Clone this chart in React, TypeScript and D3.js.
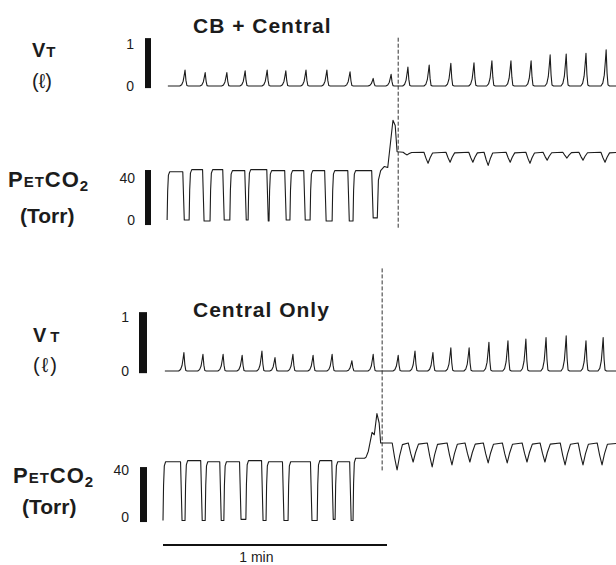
import { useEffect, useRef } from 'react'
import * as d3 from 'd3'

// time in seconds; the "1 min" bar spans 0..60
const minuteBar = [0, 60]
const markerTimes = [63.0, 58.7] // dashed lines: CB + Central, Central Only

// tidal volume breaths (peak time s, peak volume l)
const topVtTimes = [5.9, 11.3, 17.1, 22.0, 27.9, 32.9, 38.3, 43.9, 50.1, 56.3, 61.1, 65.6, 71.3, 77.1, 83.3, 88.1, 93.2, 98.6, 103.7, 108.0, 113.3, 118.7]
const topVtAmps = [0.38, 0.32, 0.32, 0.36, 0.38, 0.36, 0.38, 0.38, 0.34, 0.18, 0.28, 0.45, 0.5, 0.54, 0.55, 0.6, 0.6, 0.6, 0.74, 0.76, 0.78, 0.86]
const botVtTimes = [5.6, 10.7, 16.1, 21.2, 26.5, 30.0, 34.8, 40.2, 45.3, 50.6, 56.3, 63.0, 67.5, 72.3, 77.1, 82.0, 87.3, 92.4, 97.2, 102.6, 108.0, 113.3, 117.9]
const botVtAmps = [0.34, 0.31, 0.31, 0.29, 0.37, 0.25, 0.31, 0.29, 0.31, 0.19, 0.31, 0.29, 0.37, 0.34, 0.43, 0.43, 0.53, 0.56, 0.59, 0.62, 0.65, 0.56, 0.62]

// PETCO2 before the switch: square waves (rise s, fall s, plateau Torr, trough Torr)
const topPetRise = [1.1, 7.0, 12.6, 17.9, 22.8, 28.4, 34.0, 39.4, 45.3, 50.9]
const topPetFall = [5.4, 10.7, 16.1, 22.0, 27.9, 32.7, 37.8, 43.4, 49.6, 56.0]
const topPetPlateau = [46, 48, 48, 47, 48, 47, 47, 47, 47, 47]
const topPetTrough = [0, -1, 0, 0, -1, 0, 0, -1, -1, 2]
const topPetSwitch = [[57.4, 2], [57.7, 38], [58.3, 47], [59.3, 51], [60.2, 50], [61.6, 95], [62.2, 90], [62.7, 65]]
const topPetDipTimes = [65.4, 71.0, 76.9, 83.0, 87.1, 93.0, 98.3, 102.9, 108.2, 112.5, 118.4]
const topPetDipVals = [62, 54, 55, 55, 52, 55, 54, 57, 59, 57, 55]
const topPetLevel = 64.5

const botPetRise = [0.0, 5.9, 11.3, 16.3, 22.2, 27.6, 33.5, 41.3, 46.1, 50.9]
const botPetFall = [4.8, 10.2, 15.3, 20.6, 26.5, 32.1, 39.6, 45.3, 50.1, 54.1]
const botPetPlateau = [47, 48, 47, 47, 48, 47, 47, 48, 47, 50]
const botPetTrough = [-3, -3, -3, -2, -3, -3, -3, -2, -3, 51]
const botPetSwitch = [[55.0, 56], [56.0, 72], [56.6, 70], [57.3, 88], [57.9, 80], [58.3, 63]]
const botPetDipTimes = [62.7, 67.0, 72.1, 77.4, 82.2, 87.1, 92.2, 97.5, 102.3, 107.7, 112.5, 117.6]
const botPetDipVals = [40, 46.8, 42.6, 44.3, 46.8, 46, 46, 46.8, 46.8, 44.3, 44.3, 44.3]
const botPetLevel = 63

const vtTicks = [0, 1]
const petTicks = [0, 40]

type Pt = [number, number]

function vtPoints(times: number[], amps: number[], t0: number, t1: number): Pt[] {
  const pts: Pt[] = [[t0, 0]]
  times.forEach((tp, i) => {
    const a = amps[i]
    pts.push([tp - 1.4, 0], [tp - 0.9, 0.08 * a], [tp - 0.5, 0.3 * a], [tp - 0.2, 0.7 * a], [tp, a],
      [tp + 0.25, 0.35 * a], [tp + 0.5, 0.03 * a], [tp + 0.9, 0])
  })
  pts.push([t1, 0])
  return pts
}

function squarePoints(rise: number[], fall: number[], plat: number[], trough: number[]): Pt[] {
  const pts: Pt[] = []
  rise.forEach((r, i) => {
    const lo = i === 0 ? trough[0] : trough[i - 1]
    const p = plat[i]
    pts.push([r, lo], [r + 0.15, lo + 0.6 * (p - lo)], [r + 0.35, lo + 0.93 * (p - lo)], [r + 0.7, p])
    pts.push([fall[i] - 0.1, p], [fall[i] + 0.3, trough[i]])
  })
  return pts
}

function dipPoints(times: number[], vals: number[], level: number, t1: number, wide: number): Pt[] {
  const pts: Pt[] = []
  times.forEach((td, i) => {
    const d = level - vals[i]
    pts.push([td - 1.0 * wide, level], [td - 0.5 * wide, level - 0.55 * d], [td, level - d],
      [td + 0.5 * wide, level - 0.5 * d], [td + 1.1 * wide, level - 0.06 * d])
  })
  pts.push([t1, level])
  return pts
}

export default function App() {
  const svgRef = useRef<SVGSVGElement>(null)

  useEffect(() => {
    document.body.style.margin = '0'
    if (!svgRef.current) return
    const svg = d3.select(svgRef.current)
    svg.selectAll('*').remove()

    const W = 616
    const H = 565
    svg.attr('width', W).attr('height', H)

    const font = 'Liberation Sans, Arial, Helvetica, sans-serif'
    const ink = '#1c1c1c'
    const x = d3.scaleLinear().domain([0, 60]).range([163, 387])
    const tEnd = 123

    const yTopVt = d3.scaleLinear().domain([0, 1]).range([86, 44])
    const yTopPet = d3.scaleLinear().domain([0, 40]).range([220, 178])
    const yBotVt = d3.scaleLinear().domain([0, 1]).range([371, 317])
    const yBotPet = d3.scaleLinear().domain([0, 40]).range([517, 470])

    const trace = (pts: Pt[], y: d3.ScaleLinear<number, number>) => {
      svg.append('path')
        .datum(pts)
        .attr('fill', 'none')
        .attr('stroke', ink)
        .attr('stroke-width', 1.1)
        .attr('stroke-linejoin', 'round')
        .attr('d', d3.line<Pt>().x(d => x(d[0])).y(d => y(d[1])))
    }

    // traces
    trace(vtPoints(topVtTimes, topVtAmps, 1.3, tEnd), yTopVt)
    trace(vtPoints(botVtTimes, botVtAmps, 0.5, tEnd), yBotVt)
    trace([
      ...squarePoints(topPetRise, topPetFall, topPetPlateau, topPetTrough),
      ...(topPetSwitch as Pt[]),
      ...dipPoints(topPetDipTimes, topPetDipVals, topPetLevel, tEnd, 1.1),
    ], yTopPet)
    trace([
      ...squarePoints(botPetRise, botPetFall, botPetPlateau, botPetTrough),
      ...(botPetSwitch as Pt[]),
      ...dipPoints(botPetDipTimes, botPetDipVals, botPetLevel, tEnd, 1.3),
    ], yBotPet)

    // dashed markers
    const markers = [
      { t: markerTimes[0], y1: yTopVt(1.15), y2: yTopPet(-8) },
      { t: markerTimes[1], y1: yBotVt(1.9), y2: yBotPet(38) },
    ]
    markers.forEach(m => {
      svg.append('line')
        .attr('x1', x(m.t)).attr('x2', x(m.t))
        .attr('y1', m.y1).attr('y2', m.y2)
        .attr('stroke', '#333').attr('stroke-width', 1)
        .attr('stroke-dasharray', '4,2')
    })

    // scale bars + tick labels
    const bars = [
      { y: yTopVt, lo: -0.05, hi: 1.14, x0: 145, w: 6, ticks: vtTicks, lx: 134 },
      { y: yTopPet, lo: -4.8, hi: 47.6, x0: 145, w: 6, ticks: petTicks, lx: 135 },
      { y: yBotVt, lo: -0.04, hi: 1.09, x0: 139, w: 8, ticks: vtTicks, lx: 129 },
      { y: yBotPet, lo: -4.3, hi: 42.5, x0: 140, w: 7, ticks: petTicks, lx: 129 },
    ]
    bars.forEach(b => {
      svg.append('rect')
        .attr('x', b.x0).attr('width', b.w)
        .attr('y', b.y(b.hi)).attr('height', b.y(b.lo) - b.y(b.hi))
        .attr('fill', '#111')
      b.ticks.forEach(t => {
        svg.append('text')
          .attr('x', b.lx).attr('y', b.y(t))
          .attr('dy', '0.35em')
          .attr('text-anchor', 'end')
          .attr('font-family', font).attr('font-size', 14)
          .attr('fill', ink)
          .text(String(t))
      })
    })

    // titles
    const titles = [
      { text: 'CB + Central', y: 33 },
      { text: 'Central Only', y: 317 },
    ]
    titles.forEach(t => {
      svg.append('text')
        .attr('x', 193).attr('y', t.y)
        .attr('font-family', font).attr('font-size', 21).attr('font-weight', 'bold')
        .attr('letter-spacing', 1)
        .attr('fill', ink)
        .text(t.text)
    })

    // row labels
    const vtLabel = (x0: number, yV: number, yL: number, gap: number) => {
      const v = svg.append('text').attr('x', x0).attr('y', yV)
        .attr('font-family', font).attr('font-weight', 'bold').attr('fill', ink)
      v.append('tspan').attr('font-size', 20).text('V')
      v.append('tspan').attr('font-size', 15).attr('dx', gap).text('T')
      svg.append('text').attr('x', x0).attr('y', yL)
        .attr('font-family', font).attr('font-size', 20).attr('fill', ink)
        .attr('letter-spacing', gap > 2 ? 2 : 0)
        .text('(ℓ)')
    }
    vtLabel(32, 57, 88, 1)
    vtLabel(33, 342, 372, 4)

    const petLabel = (x0: number, yP: number, xT: number, yT: number) => {
      const p = svg.append('text').attr('x', x0).attr('y', yP)
        .attr('font-family', font).attr('font-weight', 'bold').attr('fill', ink)
        .attr('letter-spacing', 1)
      p.append('tspan').attr('font-size', 22).text('P')
      p.append('tspan').attr('font-size', 15).text('ET')
      p.append('tspan').attr('font-size', 22).text('CO')
      p.append('tspan').attr('font-size', 15).attr('dy', 4).text('2')
      svg.append('text').attr('x', xT).attr('y', yT)
        .attr('font-family', font).attr('font-size', 21).attr('font-weight', 'bold')
        .attr('fill', ink)
        .text('(Torr)')
    }
    petLabel(8, 187, 20, 223)
    petLabel(13, 483, 22, 514)

    // time bar
    svg.append('line')
      .attr('x1', x(minuteBar[0])).attr('x2', x(minuteBar[1]))
      .attr('y1', 545).attr('y2', 545)
      .attr('stroke', '#111').attr('stroke-width', 2)
    svg.append('text')
      .attr('x', x(25)).attr('y', 562)
      .attr('text-anchor', 'middle')
      .attr('font-family', font).attr('font-size', 14)
      .attr('fill', ink)
      .text('1 min')
  }, [])

  return <svg ref={svgRef} style={{ display: 'block' }} />
}
